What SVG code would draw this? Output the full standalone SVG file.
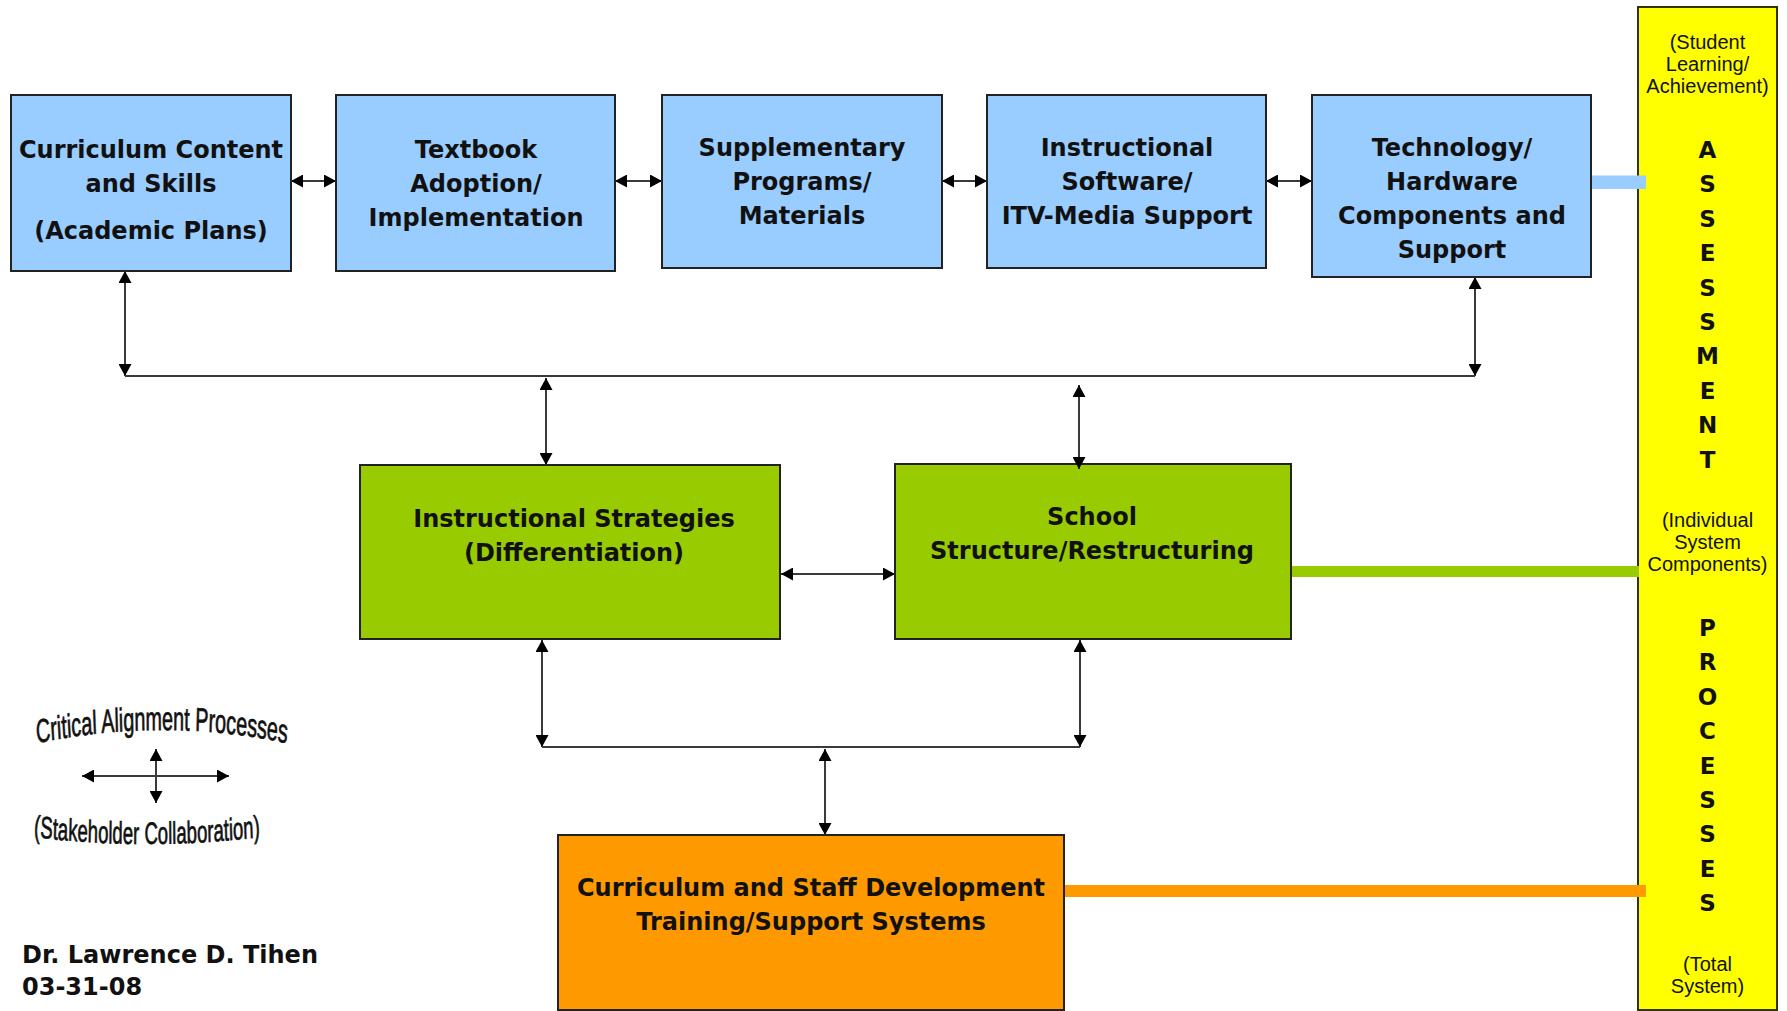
<svg xmlns="http://www.w3.org/2000/svg" width="1787" height="1011" viewBox="0 0 1787 1011">
  <style>
    .box { stroke: #222; stroke-width: 2; }
    .blue { fill: #99CCFF; }
    .green { fill: #99CC00; }
    .orange { fill: #FF9900; }
    .lbl { font-family: "DejaVu Sans", Verdana, sans-serif; font-weight: bold; font-size: 24px; fill: #111; text-anchor: middle; }
    .small { font-family: "Liberation Sans", Arial, sans-serif; font-size: 20px; fill: #111; text-anchor: middle; }
    .vert { font-family: "DejaVu Sans", Verdana, sans-serif; font-weight: bold; font-size: 23px; fill: #111; text-anchor: middle; }
    .arch { font-family: "Liberation Sans", Arial, sans-serif; fill: #111; stroke: #111; stroke-width: 0.7; }
    .conn { stroke: #3a3a3a; stroke-width: 2; fill: none; }
    .dbl { marker-start: url(#head); marker-end: url(#head); }
  </style>
  <defs>
    <marker id="head" viewBox="0 0 12 13" refX="12" refY="6.5" markerWidth="12" markerHeight="13" markerUnits="userSpaceOnUse" orient="auto-start-reverse">
      <path d="M0,0 L12,6.5 L0,13 z" fill="#000"/>
    </marker>
    <path id="archTop" d="M -215,744 Q 0,716 215,744"/>
    <path id="archBottom" d="M -215,835 Q 0,853 215,835"/>
  </defs>

  <rect width="1787" height="1011" fill="#fff"/>

  <!-- Assessment column -->
  <g id="assessment">
    <rect x="1638" y="7" width="139" height="1003" fill="#FFFF00" stroke="#333300" stroke-width="2"/>
    <text class="small"><tspan x="1707.5" y="49">(Student</tspan><tspan x="1707.5" y="71">Learning/</tspan><tspan x="1707.5" y="93">Achievement)</tspan></text>
    <text class="vert">
      <tspan x="1707.5" y="158">A</tspan><tspan x="1707.5" dy="34.4">S</tspan><tspan x="1707.5" dy="34.4">S</tspan><tspan x="1707.5" dy="34.4">E</tspan><tspan x="1707.5" dy="34.4">S</tspan><tspan x="1707.5" dy="34.4">S</tspan><tspan x="1707.5" dy="34.4">M</tspan><tspan x="1707.5" dy="34.4">E</tspan><tspan x="1707.5" dy="34.4">N</tspan><tspan x="1707.5" dy="34.4">T</tspan>
    </text>
    <text class="small"><tspan x="1707.5" y="527">(Individual</tspan><tspan x="1707.5" y="549">System</tspan><tspan x="1707.5" y="571">Components)</tspan></text>
    <text class="vert">
      <tspan x="1707.5" y="636">P</tspan><tspan x="1707.5" dy="34.4">R</tspan><tspan x="1707.5" dy="34.4">O</tspan><tspan x="1707.5" dy="34.4">C</tspan><tspan x="1707.5" dy="34.4">E</tspan><tspan x="1707.5" dy="34.4">S</tspan><tspan x="1707.5" dy="34.4">S</tspan><tspan x="1707.5" dy="34.4">E</tspan><tspan x="1707.5" dy="34.4">S</tspan>
    </text>
    <text class="small"><tspan x="1707.5" y="970.5">(Total</tspan><tspan x="1707.5" y="992.5">System)</tspan></text>
  </g>

  <!-- Top row of components -->
  <g id="curriculum-content">
    <rect class="box blue" x="11" y="95" width="280" height="176"/>
    <text class="lbl"><tspan x="151" y="158">Curriculum Content</tspan><tspan x="151" y="192">and Skills</tspan><tspan x="151" y="239">(Academic Plans)</tspan></text>
  </g>
  <g id="textbook">
    <rect class="box blue" x="336" y="95" width="279" height="176"/>
    <text class="lbl"><tspan x="476" y="158">Textbook</tspan><tspan x="476" y="192">Adoption/</tspan><tspan x="476" y="226">Implementation</tspan></text>
  </g>
  <g id="supplementary">
    <rect class="box blue" x="662" y="95" width="280" height="173"/>
    <text class="lbl"><tspan x="802" y="156">Supplementary</tspan><tspan x="802" y="190">Programs/</tspan><tspan x="802" y="224">Materials</tspan></text>
  </g>
  <g id="instructional-software">
    <rect class="box blue" x="987" y="95" width="279" height="173"/>
    <text class="lbl"><tspan x="1127" y="156">Instructional</tspan><tspan x="1127" y="190">Software/</tspan><tspan x="1127" y="224">ITV-Media Support</tspan></text>
  </g>
  <g id="technology">
    <rect class="box blue" x="1312" y="95" width="279" height="182"/>
    <text class="lbl"><tspan x="1452" y="156">Technology/</tspan><tspan x="1452" y="190">Hardware</tspan><tspan x="1452" y="224">Components and</tspan><tspan x="1452" y="258">Support</tspan></text>
  </g>

  <!-- Middle row -->
  <g id="instructional-strategies">
    <rect class="box green" x="360" y="465" width="420" height="174"/>
    <text class="lbl"><tspan x="574" y="527">Instructional Strategies</tspan><tspan x="574" y="561">(Differentiation)</tspan></text>
  </g>
  <g id="school-structure">
    <rect class="box green" x="895" y="464" width="396" height="175"/>
    <text class="lbl"><tspan x="1092" y="525">School</tspan><tspan x="1092" y="559">Structure/Restructuring</tspan></text>
  </g>

  <!-- Bottom -->
  <g id="staff-development">
    <rect class="box orange" x="558" y="835" width="506" height="175"/>
    <text class="lbl"><tspan x="811" y="896">Curriculum and Staff Development</tspan><tspan x="811" y="930">Training/Support Systems</tspan></text>
  </g>

  <!-- Connectors -->
  <g id="connectors">
    <line class="conn dbl" x1="291" y1="181" x2="336" y2="181"/>
    <line class="conn dbl" x1="615" y1="181" x2="662" y2="181"/>
    <line class="conn dbl" x1="942" y1="181" x2="987" y2="181"/>
    <line class="conn dbl" x1="1266" y1="181" x2="1312" y2="181"/>

    <line class="conn dbl" x1="125" y1="271" x2="125" y2="376"/>
    <line class="conn dbl" x1="1475" y1="277" x2="1475" y2="376"/>
    <line class="conn" x1="125" y1="376" x2="1475" y2="376"/>

    <line class="conn dbl" x1="546" y1="378" x2="546" y2="465"/>
    <line class="conn dbl" x1="1079" y1="385" x2="1079" y2="469"/>

    <line class="conn dbl" x1="781" y1="574" x2="895" y2="574"/>

    <line class="conn dbl" x1="542" y1="640" x2="542" y2="747"/>
    <line class="conn dbl" x1="1080" y1="640" x2="1080" y2="747"/>
    <line class="conn" x1="542" y1="747" x2="1080" y2="747"/>
    <line class="conn dbl" x1="825" y1="749" x2="825" y2="835"/>

    <!-- colour bands into the assessment column -->
    <rect x="1592" y="175.5" width="54" height="13.5" fill="#99CCFF"/>
    <rect x="1292" y="566" width="347" height="11" fill="#99CC00"/>
    <rect x="1065" y="885" width="581" height="12" fill="#FF9900"/>
  </g>

  <!-- Legend -->
  <g id="legend">
    <g transform="translate(162,0) scale(0.6,1)">
      <text class="arch" font-size="33"><textPath href="#archTop" startOffset="50%" text-anchor="middle">Critical Alignment Processes</textPath></text>
    </g>
    <line class="conn dbl" x1="82" y1="776" x2="229" y2="776"/>
    <line class="conn dbl" x1="156" y1="749" x2="156" y2="803"/>
    <g transform="translate(147,0) scale(0.6,1)">
      <text class="arch" font-size="31"><textPath href="#archBottom" startOffset="50%" text-anchor="middle">(Stakeholder Collaboration)</textPath></text>
    </g>
  </g>

  <!-- Author -->
  <g id="author">
    <text class="lbl" style="text-anchor:start"><tspan x="22" y="963">Dr. Lawrence D. Tihen</tspan><tspan x="22" y="995">03-31-08</tspan></text>
  </g>
</svg>
